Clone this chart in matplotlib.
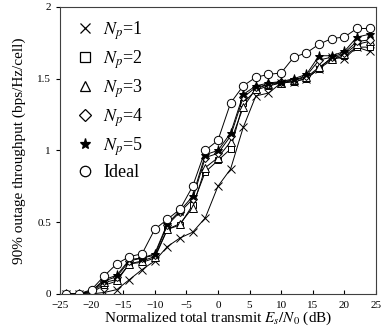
import matplotlib
matplotlib.use('Agg')
import matplotlib.pyplot as plt
from matplotlib.lines import Line2D

plt.rcParams['font.family'] = ['Liberation Serif', 'DejaVu Serif']
plt.rcParams['mathtext.fontset'] = 'stix'

# Es/N0 (dB)
snr = [-24, -22, -20, -18, -16, -14, -12, -10, -8, -6, -4, -2, 0,
       2, 4, 6, 8, 10, 12, 14, 16, 18, 20, 22, 24]

np1 = [0, 0, 0, 0.01, 0.03, 0.10, 0.17, 0.23, 0.33, 0.39, 0.43, 0.53, 0.75,
       0.87, 1.16, 1.38, 1.40, 1.47, 1.48, 1.50, 1.57, 1.65, 1.64, 1.72, 1.69]
np2 = [0, 0, 0.01, 0.06, 0.09, 0.21, 0.22, 0.25, 0.45, 0.48, 0.62, 0.85, 0.93,
       1.01, 1.33, 1.42, 1.45, 1.47, 1.48, 1.50, 1.57, 1.63, 1.66, 1.72, 1.72]
np3 = [0, 0, 0.01, 0.08, 0.10, 0.21, 0.23, 0.26, 0.45, 0.49, 0.60, 0.88, 0.95,
       1.06, 1.30, 1.43, 1.46, 1.47, 1.49, 1.51, 1.58, 1.64, 1.67, 1.74, 1.76]
np4 = [0, 0, 0.02, 0.09, 0.12, 0.23, 0.25, 0.27, 0.48, 0.57, 0.66, 0.95, 0.98,
       1.10, 1.37, 1.44, 1.46, 1.48, 1.49, 1.52, 1.63, 1.65, 1.68, 1.76, 1.77]
np5 = [0, 0, 0.02, 0.10, 0.13, 0.24, 0.25, 0.28, 0.49, 0.58, 0.68, 0.97, 1.00,
       1.12, 1.39, 1.45, 1.47, 1.48, 1.50, 1.53, 1.66, 1.66, 1.69, 1.79, 1.81]
ideal = [0, 0, 0.03, 0.125, 0.21, 0.26, 0.28, 0.45, 0.52, 0.59, 0.75, 1.00, 1.07,
         1.33, 1.45, 1.51, 1.53, 1.54, 1.65, 1.68, 1.74, 1.78, 1.79, 1.85, 1.85]

series = [np1, np2, np3, np4, np5, ideal]
labels = ['$N_p$=1', '$N_p$=2', '$N_p$=3', '$N_p$=4', '$N_p$=5', 'Ideal']
markers = ['x', 's', '^', 'D', '*', 'o']
msizes = [6, 5, 5.5, 4.5, 6.5, 6]

fig = plt.figure(figsize=(3.84, 3.31), dpi=100)
ax = fig.add_axes([0.156, 0.112, 0.823, 0.867])

handles = []
for y, lab, m, ms in zip(series, labels, markers, msizes):
    fc = 'black' if m == '*' else 'white'
    ax.plot(snr, y, color='black', lw=0.7, marker=m, ms=ms,
            mfc=fc, mec='black', mew=0.7)
    handles.append(Line2D([], [], ls='none', marker=m, ms=ms + 1.5,
                          mfc=fc, mec='black', mew=0.9, label=lab))

ax.set_xlim(-25, 25)
ax.set_ylim(0, 2)
ax.set_xticks(range(-25, 30, 5))
ax.set_yticks([0, 0.5, 1, 1.5, 2])
ax.set_yticklabels(['0', '0.5', '1', '1.5', '2'])
ax.tick_params(axis='x', direction='in', length=3, labelsize=8, pad=5)
ax.tick_params(axis='y', direction='out', length=3, labelsize=8)
for s in ax.spines.values():
    s.set_color('#404040')
    s.set_linewidth(0.8)

ax.set_xlabel('Normalized total transmit $E_s/N_0$ (dB)', fontsize=11, labelpad=0)
ax.set_ylabel('90% outage throughput (bps/Hz/cell)', fontsize=11, labelpad=8)

ax.legend(handles=handles, loc='upper left', frameon=False, fontsize=13,
          handletextpad=0.3, labelspacing=0.35, borderaxespad=0.3,
          handlelength=1.4)

fig.savefig('out.png', dpi=100)
